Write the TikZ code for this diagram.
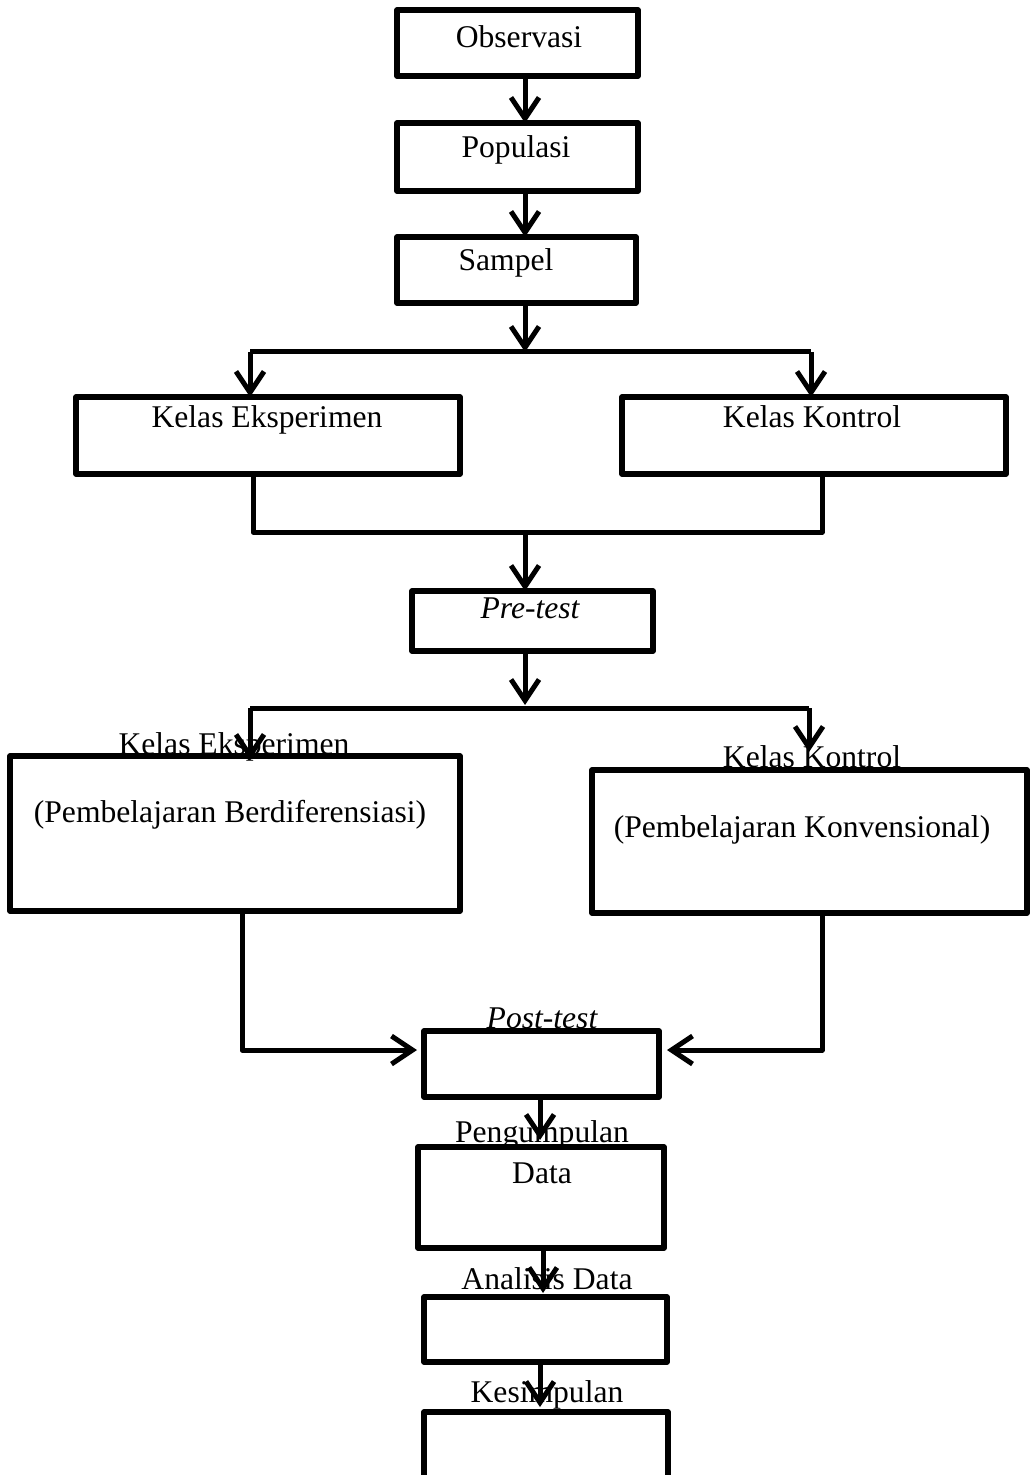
\documentclass[tikz,border=0pt]{standalone}
\usepackage{fontspec}
\setmainfont{Liberation Serif}
\usetikzlibrary{arrows.meta,calc}
\tikzset{
  box/.style={draw, line width=2.8pt, inner sep=0pt, outer sep=0pt, line join=round},
  lbl/.style={anchor=base, inner sep=0pt, font=\fontsize{15.8}{18}\selectfont},
  conn/.style={line width=2.5pt, line join=round},
  arr/.style={conn, -{Straight Barb[length=10.5pt,width=14pt,line width=2.5pt]}}
}
\newcommand{\mybox}[5]{%
  \node[box, minimum width={(#4-#2)*0.5pt}, minimum height={(#5-#3)*0.5pt}] (#1) at ({(#2+#4)/2},{(#3+#5)/2}) {};}
\begin{document}
\begin{tikzpicture}[x=0.5pt,y=-0.5pt]
\useasboundingbox (0,0) rectangle (1029,1475);
% boxes
\mybox{obs}{397}{10}{638}{76}
\mybox{pop}{397}{123}{638}{191}
\mybox{samp}{397}{237}{636}{303}
\mybox{ke1}{76}{397}{460}{474}
\mybox{kk1}{622}{397}{1006}{474}
\mybox{pre}{412}{591}{653}{651}
\mybox{ke2}{10}{756}{460}{911}
\mybox{kk2}{592}{770}{1027}{913}
\mybox{post}{424}{1031}{659}{1097}
\mybox{pd}{418}{1147}{664}{1248}
\mybox{ad}{424}{1297}{667}{1362}
\mybox{ks}{424}{1412}{668}{1500}
% texts
\node[lbl] (tobs) at (519,48) {Observasi};
\node[lbl] (tpop) at (516,158) {Populasi};
\node[lbl] (tsamp) at (506,271) {Sampel};
\node[lbl] (tke1) at (267,428) {Kelas Eksperimen};
\node[lbl] (tkk1) at (812,428) {Kelas Kontrol};
\node[lbl] (tpre) at (530,618) {\itshape Pre-test};
\node[lbl] (tke2) at (234,754) {Kelas Eksperimen};
\node[lbl] (tke2b) at (230,822) {(Pembelajaran Berdiferensiasi)};
\node[lbl] (tkk2) at (812,767) {Kelas Kontrol};
\node[lbl] (tkk2b) at (802,837) {(Pembelajaran Konvensional)};
\node[lbl] (tpost) at (542,1028) {\itshape Post-test};
\node[lbl] (tpd) at (542,1142) {Pengumpulan};
\node[lbl] (tpd2) at (542,1183) {Data};
\node[lbl] (tad) at (547,1289) {Analisis Data};
\node[lbl] (tks) at (547,1402) {Kesimpulan};
% coordinates
\coordinate (trunk) at (525,0);
\coordinate (s1) at (525,352);
\coordinate (s1l) at (250,352);
\coordinate (s1r) at (811,352);
\coordinate (m1) at (525,532);
\coordinate (m1l) at (253,532);
\coordinate (m1r) at (822,532);
\coordinate (s2) at (525,708);
\coordinate (s2l) at (250,708);
\coordinate (s2r) at (809,708);
\coordinate (kkend) at (809,752);
\coordinate (pin) at (0,1050);
% connectors
\draw[arr] (obs.south -| trunk) -- (pop.north -| trunk);
\draw[arr] (pop.south -| trunk) -- (samp.north -| trunk);
\draw[arr] (samp.south -| trunk) -- (s1);
\draw[conn] (s1l) -- (s1r);
\draw[arr] (s1l) -- (ke1.north -| s1l);
\draw[arr] (s1r) -- (kk1.north -| s1r);
\draw[conn] (ke1.south -| m1l) -- (m1l) -- (m1r) -- (kk1.south -| m1r);
\draw[arr] (m1) -- (pre.north -| m1);
\draw[arr, shorten >=1.5pt] (pre.south -| trunk) -- (s2);
\draw[conn] (s2l) -- (s2r);
\draw[arr, shorten >=-2pt] (s2l) -- (ke2.north -| s2l);
\draw[arr] (s2r) -- (kkend);
\draw[arr, shorten >=3.5pt] (ke2.south -| 242,0) |- (post.west |- pin);
\draw[arr, shorten >=4pt] (kk2.south -| 822,0) |- (post.east |- pin);
\draw[arr, shorten >=3.5pt] (post.south -| 540,0) -- (pd.north -| 540,0);
\draw[arr, shorten >=2pt] (pd.south -| 543,0) -- (ad.north -| 543,0);
\draw[arr, shorten >=2.5pt] (ad.south -| 540,0) -- (ks.north -| 540,0);
\end{tikzpicture}
\end{document}
